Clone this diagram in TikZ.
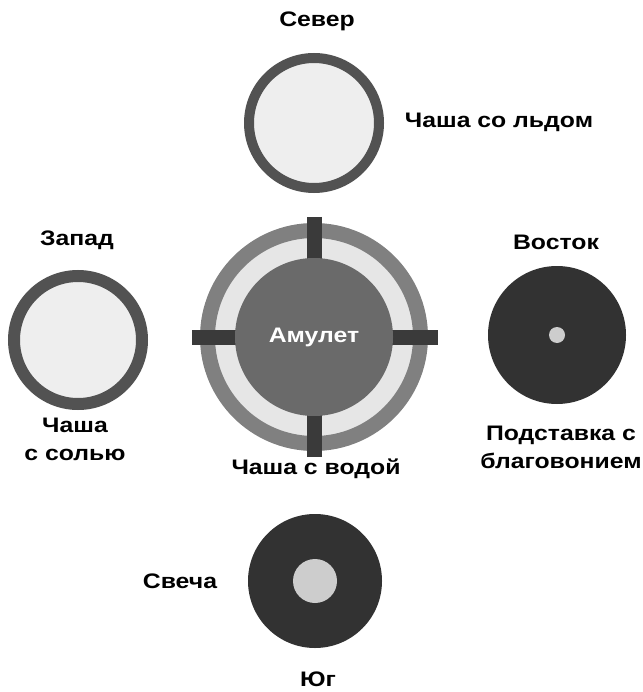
\documentclass[tikz,border=0pt]{standalone}
\usepackage{fontspec}
\setmainfont[FakeStretch=1.18]{Liberation Sans}
\usepackage{tikz}
\usetikzlibrary{positioning}
\definecolor{RingDark}{RGB}{82,82,82}
\definecolor{RingMid}{RGB}{128,128,128}
\definecolor{Pale}{RGB}{230,230,230}
\definecolor{PaleIce}{RGB}{238,238,238}
\definecolor{Disk}{RGB}{50,50,50}
\definecolor{Amber}{RGB}{106,106,106}
\definecolor{Bar}{RGB}{58,58,58}
\definecolor{Spot}{RGB}{205,205,205}
\tikzset{
  label/.style={font=\bfseries\fontsize{21}{28}\selectfont,align=center,text=black},
  bowl/.style={circle,inner sep=0pt,outer sep=0pt,line width=10pt,draw=RingDark,fill=PaleIce,minimum size=130pt},
  disk/.style={circle,inner sep=0pt,outer sep=0pt,fill=Disk,minimum size=138pt},
  spot/.style={circle,inner sep=0pt,fill=Spot},
  crossbar/.style={line width=15pt,draw=Bar}
}
\begin{document}
\begin{tikzpicture}[x=1pt,y=-1pt]
\useasboundingbox (0,0) rectangle (642,692);
% water bowl with cross
\node[circle,inner sep=0pt,line width=15pt,draw=RingMid,fill=Pale,minimum size=213pt] (water) at (314,337) {};
\draw[crossbar] (314,217) -- (314,457);
\draw[crossbar] (192,337) -- (438,337);
\node[circle,inner sep=0pt,fill=Amber,minimum size=158pt,text=white,font=\bfseries\fontsize{21}{25}\selectfont] (amulet) at (314,337) {Амулет};
% four bowls
\node[bowl] (ice) at (314,123) {};
\node[bowl,line width=12pt,minimum size=128pt] (salt) at (78,340) {};
\node[disk] (incense) at (557,335) {};
\node[spot,minimum size=16pt] (stick) at (incense) {};
\node[disk,minimum size=134pt] (candle) at (315,581) {};
\node[spot,minimum size=44pt] (flame) at (candle) {};
% labels
\node[label] (north) at (317,21) {Север};
\node[label] (icetext) at (499,122) {Чаша со льдом};
\node[label] (west) at (77,240) {Запад};
\node[label] (east) at (556,242) {Восток};
\node[label] (salttext) at (75,439) {Чаша\\с солью};
\node[label] (watertext) at (316,469) {Чаша с водой};
\node[label] (incensetext) at (561,447) {Подставка с\\благовонием};
\node[label] (candletext) at (180,581) {Свеча};
\node[label] (south) at (318,679) {Юг};
\end{tikzpicture}
\end{document}
